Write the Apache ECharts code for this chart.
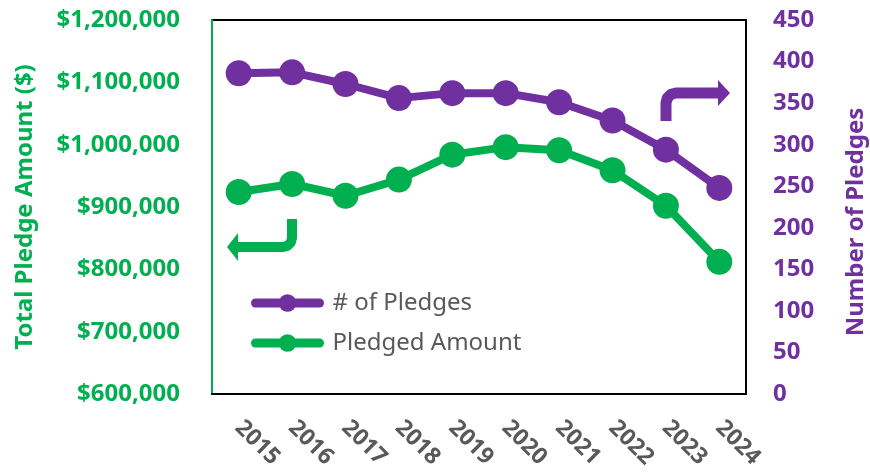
<!DOCTYPE html>
<html>
<head>
<meta charset="utf-8">
<script src="https://cdn.jsdelivr.net/npm/echarts@6/dist/echarts.min.js"></script>
<style>
  html, body { margin: 0; padding: 0; background: #fff; }
  #chart { width: 870px; height: 476px; }
</style>
</head>
<body>
<div id="chart"></div>
<script>
// data
var years = ['2015', '2016', '2017', '2018', '2019', '2020', '2021', '2022', '2023', '2024'];
var pledgeCounts = [386, 387, 373, 356, 362, 362, 351, 329, 294, 248];
var pledgeAmounts = [924000, 937000, 918000, 944000, 984000, 996000, 991000, 959000, 902000, 812000];
var amountTicks = [600000, 1200000, 100000]; // min, max, step
var countTicks = [0, 450, 50];

var GREEN = '#00B050';
var PURPLE = '#7030A0';
var GREY = '#595959';
var FONT = 'Noto Sans';

function money(v) {
  return '$' + String(v).replace(/\B(?=(\d{3})+(?!\d))/g, ',');
}

var chart = echarts.init(document.getElementById('chart'));
chart.setOption({
  animation: false,
  textStyle: { fontFamily: FONT },
  grid: {
    left: 212, top: 20, right: 124, bottom: 82,
    outerBoundsMode: 'none',
    show: true, borderColor: '#000', borderWidth: 2
  },
  legend: {
    orient: 'vertical',
    left: 246, top: 286,
    itemWidth: 64, itemHeight: 22,
    itemGap: 16,
    data: ['# of Pledges', 'Pledged Amount'],
    lineStyle: { width: 9, cap: 'round' },
    textStyle: { fontFamily: FONT, fontSize: 24, color: GREY, padding: [0, 0, 0, 8] }
  },
  xAxis: {
    type: 'category',
    data: years,
    boundaryGap: true,
    axisLine: { lineStyle: { color: '#000', width: 2 } },
    axisTick: { show: false },
    axisLabel: {
      rotate: -45, margin: 30,
      fontFamily: FONT, fontSize: 23, fontWeight: 'bold', color: GREY
    }
  },
  yAxis: [{
    type: 'value',
    position: 'left',
    min: amountTicks[0], max: amountTicks[1], interval: amountTicks[2],
    name: 'Total Pledge Amount ($)',
    nameLocation: 'middle',
    nameGap: 175,
    nameRotate: 90,
    nameTextStyle: { color: GREEN, fontFamily: FONT, fontSize: 24, fontWeight: 'bold' },
    axisLine: { show: true, lineStyle: { color: GREEN, width: 2 } },
    axisTick: { show: false },
    splitLine: { show: false },
    axisLabel: {
      margin: 32, color: GREEN, fontFamily: FONT, fontSize: 24, fontWeight: 'bold',
      formatter: money
    }
  }, {
    type: 'value',
    position: 'right',
    min: countTicks[0], max: countTicks[1], interval: countTicks[2],
    name: 'Number of Pledges',
    nameLocation: 'middle',
    nameGap: 98,
    nameRotate: 90,
    nameTextStyle: { color: PURPLE, fontFamily: FONT, fontSize: 24, fontWeight: 'bold', padding: [0, 30, 0, 0] },
    axisLine: { show: false },
    axisTick: { show: false },
    splitLine: { show: false },
    axisLabel: {
      margin: 27, color: PURPLE, fontFamily: FONT, fontSize: 24, fontWeight: 'bold'
    }
  }],
  series: [{
    name: '# of Pledges',
    type: 'line',
    yAxisIndex: 1,
    data: pledgeCounts,
    symbol: 'circle',
    symbolSize: 26,
    lineStyle: { color: PURPLE, width: 8 },
    itemStyle: { color: PURPLE },
    z: 3
  }, {
    name: 'Pledged Amount',
    type: 'line',
    yAxisIndex: 0,
    data: pledgeAmounts,
    symbol: 'circle',
    symbolSize: 26,
    lineStyle: { color: GREEN, width: 8 },
    itemStyle: { color: GREEN },
    z: 3
  }],
  // the two bent arrows pointing at each axis
  graphic: [{
    type: 'polyline',
    shape: { points: [[292, 219], [292, 238], [290.8, 242.5], [287.5, 245.8], [283, 247], [236, 247]] },
    style: { stroke: GREEN, lineWidth: 10, fill: null, lineJoin: 'round' }
  }, {
    type: 'polygon',
    shape: { points: [[238, 233], [227, 247], [238, 261]] },
    style: { fill: GREEN }
  }, {
    type: 'polyline',
    shape: { points: [[666, 121], [666, 103], [667.3, 98], [671, 94.3], [676, 93], [719, 93]] },
    style: { stroke: PURPLE, lineWidth: 11, fill: null, lineJoin: 'round' }
  }, {
    type: 'polygon',
    shape: { points: [[718, 80], [730, 93], [718, 106]] },
    style: { fill: PURPLE }
  }]
});
</script>
</body>
</html>
